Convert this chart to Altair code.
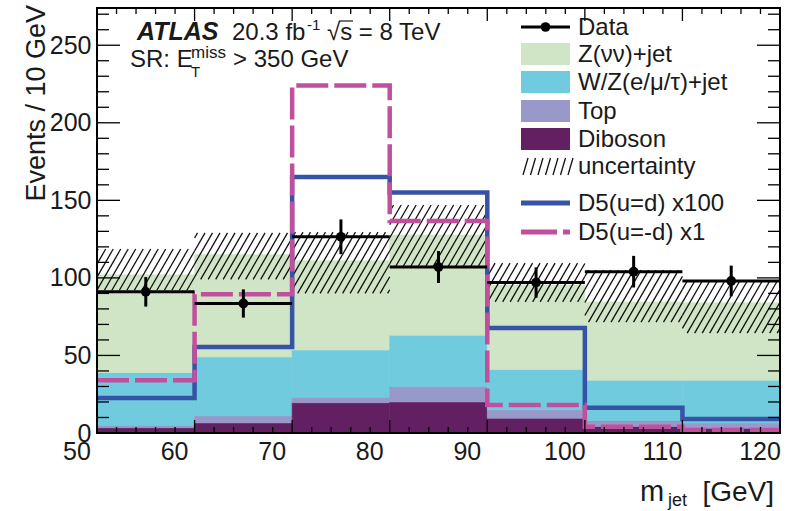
import math
import altair as alt
import numpy as np
import pandas as pd

# ---------------- data ----------------
edges = [50, 60, 70, 80, 90, 100, 110, 120]
data_y = [91.0, 83.5, 126.5, 107.0, 97.0, 104.0, 98.0]
data_err = [9.5, 9.1, 11.2, 10.3, 9.8, 10.2, 9.9]
diboson = [3.4, 6.5, 19.5, 20.0, 9.5, 4.2, 3.0]
top = [1.6, 4.5, 3.5, 10.0, 5.5, 3.8, 3.4]
wz = [34.0, 38.0, 30.5, 33.0, 26.0, 26.0, 27.6]
znn = [63.0, 66.0, 57.5, 64.6, 54.4, 50.5, 50.0]
unc_lo = [92.0, 99.0, 90.0, 107.0, 84.5, 71.5, 64.4]
unc_hi = [118.6, 129.0, 129.5, 147.0, 109.5, 105.0, 97.5]
d5_ud = [22.5, 55.4, 165.0, 155.0, 67.7, 16.3, 9.0]
d5_umd = [34.0, 89.5, 224.0, 136.6, 18.0, 4.0, 2.0]
y_ticks = [0, 50, 100, 150, 200, 250]
x_ticks = [50, 60, 70, 80, 90, 100, 110, 120]
comp_names = ["Diboson", "Top", "W/Z(e/μ/τ)+jet", "Z(νν)+jet"]
comp_colors = ["#621f61", "#9898c9", "#6fcbdd", "#cfe5c5"]

# ---------------- layout / style ----------------
W, H = 683, 425
YMAX = 274.0
FONT = "Liberation Sans"
TXT = "#1a1a1a"
BLUE = "#3653a6"
MAG = "#c0509e"

lo = edges[:-1]
hi = edges[1:]
ctr = [(a + b) / 2 for a, b in zip(lo, hi)]

xs = alt.Scale(domain=[edges[0], edges[-1]], nice=False, zero=False)
ys = alt.Scale(domain=[0, YMAX], nice=False, zero=False)
xaxis = alt.Axis(values=x_ticks, labels=False, ticks=False, domain=False, grid=False)
yaxis = alt.Axis(values=y_ticks, format="d", labelFlush=False, labelPadding=6,
                 ticks=False, domain=False, grid=False,
                 labelFontSize=25, labelFont=FONT, labelColor=TXT)


def X(f):
    return alt.X(f, type="quantitative", scale=xs, axis=xaxis, title=None)


def Y(f):
    return alt.Y(f, type="quantitative", scale=ys, axis=yaxis, title=None)


one = pd.DataFrame({"a": [0]})

# ---------------- stacked backgrounds ----------------
rows = []
for i in range(len(lo)):
    base = 0.0
    for name, arr in zip(comp_names, [diboson, top, wz, znn]):
        rows.append(dict(lo=lo[i], hi=hi[i], y0=base, y1=base + arr[i], comp=name))
        base += arr[i]
stack_df = pd.DataFrame(rows)
cscale = alt.Scale(domain=comp_names, range=comp_colors)
stack = alt.Chart(stack_df).mark_rect(strokeWidth=0.6).encode(
    x=X("lo"), x2="hi", y=Y("y0"), y2="y1",
    color=alt.Color("comp:N", scale=cscale, legend=None),
    stroke=alt.Color("comp:N", scale=cscale, legend=None),
)

# ---------------- hatched uncertainty ----------------
SX = W / (edges[-1] - edges[0])
SY = H / YMAX
STEP = 7.5
T = math.tan(math.radians(60))
segs = []
for i in range(len(lo)):
    X0 = (lo[i] - edges[0]) * SX
    X1 = (hi[i] - edges[0]) * SX
    Y0 = unc_lo[i] * SY
    Y1 = unc_hi[i] * SY
    k0 = math.ceil((X0 - Y1 / T) / STEP)
    k1 = math.floor((X1 - Y0 / T) / STEP)
    for k in range(k0, k1 + 1):
        c = k * STEP
        ya = max(Y0, (X0 - c) * T)
        yb = min(Y1, (X1 - c) * T)
        if yb > ya + 0.5:
            segs.append(dict(x=edges[0] + (c + ya / T) / SX, y=ya / SY,
                             x2=edges[0] + (c + yb / T) / SX, y2=yb / SY))
hatch_df = pd.DataFrame(segs)
hatch = alt.Chart(hatch_df).mark_rule(color="#111111", strokeWidth=1.3).encode(
    x=X("x"), y=Y("y"), x2="x2", y2="y2")

# ---------------- signal step lines ----------------
sig_df = pd.DataFrame({"x": edges, "ud": d5_ud + [d5_ud[-1]], "umd": d5_umd + [d5_umd[-1]]})
line_ud = alt.Chart(sig_df).mark_line(color=BLUE, strokeWidth=4.5, interpolate="step-after").encode(
    x=X("x"), y=Y("ud"))
line_umd = alt.Chart(sig_df).mark_line(color=MAG, strokeWidth=4.5, interpolate="step-after",
                                       strokeDash=[32, 6]).encode(x=X("x"), y=Y("umd"))

# ---------------- data points ----------------
dat_df = pd.DataFrame({"lo": lo, "hi": hi, "c": ctr, "y": data_y,
                       "ylo": [v - e for v, e in zip(data_y, data_err)],
                       "yhi": [v + e for v, e in zip(data_y, data_err)]})
dat_h = alt.Chart(dat_df).mark_rule(color="black", strokeWidth=3).encode(x=X("lo"), x2="hi", y=Y("y"))
dat_v = alt.Chart(dat_df).mark_rule(color="black", strokeWidth=3).encode(x=X("c"), y=Y("ylo"), y2="yhi")
dat_p = alt.Chart(dat_df).mark_point(filled=True, color="black", size=95, opacity=1).encode(x=X("c"), y=Y("y"))

# ---------------- inward ticks ----------------
ymaj = pd.DataFrame({"v": y_ticks})
ymin = pd.DataFrame({"v": [v for v in range(0, 271, 10) if v % 50 != 0]})
xmaj = pd.DataFrame({"v": x_ticks})
xmin = pd.DataFrame({"v": [v for v in range(50, 121, 2) if v % 10 != 0]})
tick_layers = []
for df, ln in [(ymaj, 23), (ymin, 12)]:
    tick_layers.append(alt.Chart(df).mark_rule(color="black", strokeWidth=1.3).encode(
        y=Y("v"), x=alt.value(0), x2=alt.value(ln)))
    tick_layers.append(alt.Chart(df).mark_rule(color="black", strokeWidth=1.3).encode(
        y=Y("v"), x=alt.value(W - ln), x2=alt.value(W)))
for df, ln in [(xmaj, 13), (xmin, 6)]:
    tick_layers.append(alt.Chart(df).mark_rule(color="black", strokeWidth=1.3).encode(
        x=X("v"), y=alt.value(H - ln), y2=alt.value(H)))
    tick_layers.append(alt.Chart(df).mark_rule(color="black", strokeWidth=1.3).encode(
        x=X("v"), y=alt.value(0), y2=alt.value(ln)))

# x tick labels (offset left of the tick like the reference)
xlab_df = pd.DataFrame({"v": x_ticks, "t": [str(v) for v in x_ticks]})
xlabels = alt.Chart(xlab_df).mark_text(font=FONT, fontSize=25, color=TXT, align="center",
                                       baseline="top", dx=-20).encode(
    x=X("v"), y=alt.value(H + 7), text="t:N")

frame = alt.Chart(one).mark_rect(filled=False, stroke="black", strokeWidth=2).encode(
    x=alt.value(0), x2=alt.value(W), y=alt.value(0), y2=alt.value(H))


# ---------------- texts ----------------
def txt(s, x, y, size, align="left", baseline="alphabetic", **kw):
    return alt.Chart(one).mark_text(text=s, fontSize=size, font=FONT, color=TXT,
                                    align=align, baseline=baseline, **kw).encode(
        x=alt.value(x), y=alt.value(y))


texts = [
    txt("ATLAS", 40, 32, 25, fontStyle="italic", fontWeight="bold"),
    txt("20.3 fb", 135, 32, 24),
    txt("-1", 210, 22, 15),
    txt("√s = 8 TeV", 230, 32, 24),
    txt("SR: E", 33, 59, 24),
    txt("miss", 94, 50, 17),
    txt("T", 94, 69, 15),
    txt("> 350 GeV", 136, 59, 24),
    txt("Events / 10 GeV", -60, -3, 27, align="right", baseline="middle", angle=270),
    txt("m", 543, 493, 29),
    txt("jet", 571, 498, 18),
    txt("[GeV]", 677, 493, 28, align="right"),
]
# overline of the square root
overline = alt.Chart(one).mark_rule(color=TXT, strokeWidth=1.2).encode(
    x=alt.value(242), x2=alt.value(256), y=alt.value(13))

# ---------------- legend ----------------
LX0, LX1, LT = 424, 473, 481
leg = []
leg.append(alt.Chart(one).mark_rule(color="black", strokeWidth=3).encode(
    x=alt.value(LX0), x2=alt.value(LX1), y=alt.value(19)))
leg.append(alt.Chart(one).mark_point(filled=True, color="black", size=95, opacity=1).encode(
    x=alt.value((LX0 + LX1) / 2), y=alt.value(19)))
box_rows = [46, 74, 103, 131]
for yy, col in zip(box_rows, comp_colors[::-1]):
    leg.append(alt.Chart(one).mark_rect(color=col).encode(
        x=alt.value(LX0), x2=alt.value(LX1), y=alt.value(yy - 11), y2=alt.value(yy + 11)))
for k in range(7):
    xb = LX0 + 2 + k * 7.5
    leg.append(alt.Chart(one).mark_rule(color="#111111", strokeWidth=1.3).encode(
        x=alt.value(xb), x2=alt.value(xb + 5), y=alt.value(167), y2=alt.value(150)))
leg.append(alt.Chart(one).mark_rule(color=BLUE, strokeWidth=5).encode(
    x=alt.value(LX0), x2=alt.value(LX1), y=alt.value(195)))
leg.append(alt.Chart(one).mark_rule(color=MAG, strokeWidth=5, strokeDash=[36, 6]).encode(
    x=alt.value(LX0), x2=alt.value(LX1), y=alt.value(224)))
leg_labels = ["Data", "Z(νν)+jet", "W/Z(e/μ/τ)+jet", "Top", "Diboson", "uncertainty",
              "D5(u=d) x100", "D5(u=-d) x1"]
leg_rows = [19, 46, 74, 103, 131, 158, 195, 224]
for s, yy in zip(leg_labels, leg_rows):
    leg.append(txt(s, LT, yy + 8, 24))

chart = alt.layer(stack, hatch, line_ud, line_umd, dat_h, dat_v, dat_p,
                  *tick_layers, xlabels, frame, *texts, overline, *leg).properties(
    width=W, height=H,
    padding={"left": 97, "top": 8, "right": 28, "bottom": 78},
    autosize=alt.AutoSizeParams(type="none"),
).configure_view(stroke=None).configure(background="white")

chart.save("out.html", embed_options={"renderer": "svg", "actions": False})
